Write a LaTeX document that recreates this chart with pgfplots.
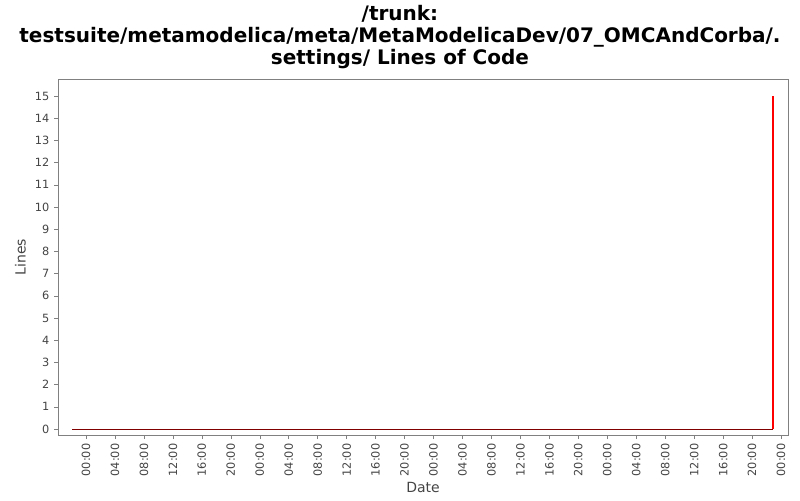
\documentclass[border=0pt]{standalone}
\usepackage{pgfplots}
\pgfplotsset{compat=1.18}
\usepackage{fontspec}
\setmainfont{DejaVu Sans}
\definecolor{tickgrey}{RGB}{68,68,68}
\definecolor{framegrey}{RGB}{128,128,128}
\definecolor{flatred}{RGB}{128,0,0}
\begin{document}
\begin{tikzpicture}[x=1pt,y=1pt]
\path[use as bounding box] (0,0) rectangle (600,375);
\node[align=center,font=\bfseries\fontsize{15}{16.5}\selectfont,anchor=center] at (300,347.5)
 {/trunk:\\testsuite/metamodelica/meta/MetaModelicaDev/07\_OMCAndCorba/.\\settings/ Lines of Code};
\begin{axis}[
  at={(43.5pt,48.75pt)}, anchor=south west,
  scale only axis, width=547.5pt, height=267pt,
  xmin=-3.87, xmax=96.96, ymin=-0.27, ymax=15.77,
  axis line style={framegrey},
  tick style={framegrey, thin},
  tick align=outside, major tick length=3pt,
  xtick pos=bottom, ytick pos=left,
  xtick={0,4,...,96},
  xticklabels={00:00,04:00,08:00,12:00,16:00,20:00,00:00,04:00,08:00,12:00,16:00,20:00,00:00,04:00,08:00,12:00,16:00,20:00,00:00,04:00,08:00,12:00,16:00,20:00,00:00},
  x tick label style={rotate=90, anchor=east, font=\fontsize{8.5}{10}\selectfont, text=tickgrey},
  ytick={0,1,...,15},
  y tick label style={font=\fontsize{8.5}{10}\selectfont, text=tickgrey},
  /pgf/number format/assume math mode=true,
  xlabel={Date}, ylabel={Lines},
  xlabel style={font=\fontsize{10.5}{12}\selectfont, text=tickgrey, yshift=2.5pt},
  ylabel style={font=\fontsize{10.5}{12}\selectfont, text=tickgrey},
  clip=false,
]
\addplot[red, line width=1.5pt, no markers] coordinates {(94.9,0) (94.9,15)};
\addplot[flatred, line width=0.6pt, no markers] coordinates {(-1.93,0) (94.9,0)};
\end{axis}
\end{tikzpicture}
\end{document}
